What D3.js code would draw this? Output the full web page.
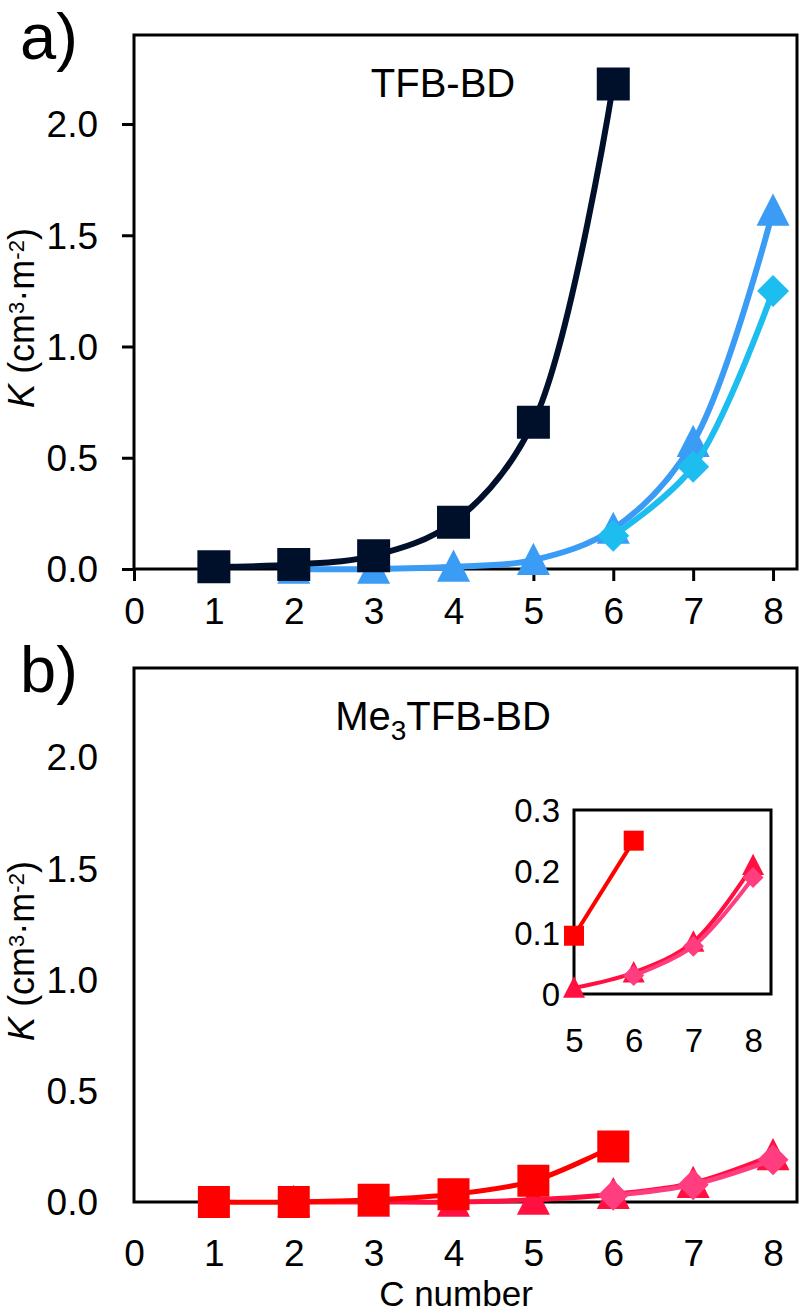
<!DOCTYPE html>
<html>
<head>
<meta charset="utf-8">
<script src="https://cdn.jsdelivr.net/npm/d3@7"></script>
<style>
  body { margin: 0; background: #fff; }
  svg text { font-family: "Liberation Sans", Arial, sans-serif; fill: #000; }
</style>
</head>
<body>
<svg id="chart" width="800" height="1314"></svg>
<script>
// values
var cNumbers = [1, 2, 3, 4, 5, 6, 7, 8]
var xTicks = [0, 1, 2, 3, 4, 5, 6, 7, 8]
var yTicks = [0, 0.5, 1.0, 1.5, 2.0]
var insetXTicks = [5, 6, 7, 8]
var insetYTicks = [0, 0.1, 0.2, 0.3]

// TFB-BD
var tfbSquareX = [1, 2, 3, 4, 5, 6]
var tfbSquare = [0.01, 0.02, 0.06, 0.21, 0.66, 2.18]
var tfbTriangleX = [2, 3, 4, 5, 6, 7, 8]
var tfbTriangle = [0.0, 0.0, 0.01, 0.04, 0.18, 0.57, 1.61]
var tfbDiamondX = [6, 7, 8]
var tfbDiamond = [0.15, 0.46, 1.25]

// Me3TFB-BD
var meSquareX = [1, 2, 3, 4, 5, 6]
var meSquare = [0.0, 0.0, 0.01, 0.035, 0.095, 0.25]
var meTriangleX = [2, 3, 4, 5, 6, 7, 8]
var meTriangle = [0.0, 0.0, 0.0, 0.01, 0.035, 0.085, 0.21]
var meDiamondX = [6, 7, 8]
var meDiamond = [0.03, 0.078, 0.19]

var svg = d3.select('#chart')
var FONT = 37

function pts(xs, ys) { return xs.map(function(x, i) { return [x, ys[i]] }) }

/**
 * Marker path centred on 0,0.
 */
function marker(shape, s) {
  var h = s / 2
  if(shape == 'square') return 'M' + -h + ',' + -h + 'h' + s + 'v' + s + 'h' + -s + 'Z'
  if(shape == 'triangle') return 'M0,' + (-h * 1.05) + 'L' + h + ',' + (h * 0.9) + 'L' + -h + ',' + (h * 0.9) + 'Z'
  return 'M0,' + -h + 'L' + h + ',0L0,' + h + 'L' + -h + ',0Z'
}

function drawSeries(g, x, y, data, color, shape, size, lw) {
  var line = d3.line()
      .x(function(d) { return x(d[0]) })
      .y(function(d) { return y(d[1]) })
      .curve(d3.curveCatmullRom.alpha(0.5))
  g.append('path')
      .attr('d', line(data))
      .attr('fill', 'none')
      .attr('stroke', color)
      .attr('stroke-width', lw)
  g.selectAll(null).data(data).enter()
    .append('path')
      .attr('d', marker(shape, size))
      .attr('transform', function(d) { return 'translate(' + x(d[0]) + ',' + y(d[1]) + ')' })
      .attr('fill', color)
}

// bottom: true for x axes, sets the baseline shift in px
function styleAxis(sel, size, bottom) {
  sel.select('.domain').remove()
  sel.selectAll('.tick line').attr('stroke', '#000').attr('stroke-width', 3)
  sel.selectAll('.tick text').attr('font-size', size).attr('fill', '#000')
      .attr('font-family', '"Liberation Sans", Arial, sans-serif')
      .attr('dy', bottom ? 0.72 * size : 0.35 * size)
}

function yLabel(cy) {
  var t = svg.append('text')
      .attr('transform', 'translate(34,' + cy + ') rotate(-90)')
      .attr('text-anchor', 'middle')
      .attr('font-size', 36)
  t.append('tspan').attr('font-style', 'italic').text('K')
  t.append('tspan').text(' (cm')
  t.append('tspan').attr('font-size', 22).attr('dy', -10).text('3')
  t.append('tspan').attr('dy', 10).text('·m')
  t.append('tspan').attr('font-size', 22).attr('dy', -10).text('-2')
  t.append('tspan').attr('dy', 10).text(')')
}

/**
 * One main panel. ticks: draw tick marks or not.
 */
function panel(opts) {
  var x = d3.scaleLinear().domain([0, 8.3]).range([134, 797])
  var y = d3.scaleLinear().domain([0, 2.4]).range([opts.bottom, opts.top])
  var g = svg.append('g')
  var ts = opts.ticks ? 12 : 0
  g.append('g')
      .attr('transform', 'translate(0,' + y(0) + ')')
      .call(d3.axisBottom(x).tickValues(xTicks).tickSize(ts).tickPadding(opts.xPad).tickFormat(d3.format('d')))
      .call(styleAxis, FONT, true)
  g.append('g')
      .attr('transform', 'translate(' + x(0) + ',0)')
      .call(d3.axisLeft(y).tickValues(yTicks).tickSize(ts).tickPadding(36 - ts).tickFormat(d3.format('.1f')))
      .call(styleAxis, FONT, false)
  g.append('rect')
      .attr('x', x(0)).attr('y', y(2.4))
      .attr('width', x(8.3) - x(0)).attr('height', y(0) - y(2.4))
      .attr('fill', 'none').attr('stroke', '#000').attr('stroke-width', 3)
  opts.series.forEach(function(s) {
    drawSeries(g, x, y, s.data, s.color, s.shape, s.size, s.lw)
  })
  svg.append('text').attr('x', 20).attr('y', opts.top + 24)
      .attr('font-size', 65).text(opts.letter)
  var title = svg.append('text').attr('x', 443).attr('y', opts.top + 62)
      .attr('text-anchor', 'middle').attr('font-size', 40)
  opts.title.forEach(function(p) {
    title.append('tspan').attr('font-size', p.sub ? 28 : 40).attr('dy', p.sub ? 10 : (p.after ? -10 : 0)).text(p.t)
  })
  yLabel((opts.top + opts.bottom) / 2 + 16)
  return { x: x, y: y }
}

panel({
  top: 35, bottom: 569, ticks: true, xPad: 16, letter: 'a)',
  title: [{ t: 'TFB-BD' }],
  series: [
    { data: pts(tfbTriangleX, tfbTriangle), color: '#3a9cf5', shape: 'triangle', size: 33, lw: 6 },
    { data: pts(tfbDiamondX, tfbDiamond), color: '#1ebdf0', shape: 'diamond', size: 32, lw: 6 },
    { data: pts(tfbSquareX, tfbSquare), color: '#00102a', shape: 'square', size: 33, lw: 6 }
  ]
})

panel({
  top: 668, bottom: 1202, ticks: false, xPad: 37, letter: 'b)',
  title: [{ t: 'Me' }, { t: '3', sub: true }, { t: 'TFB-BD', after: true }],
  series: [
    { data: pts(meTriangleX, meTriangle), color: '#ff1040', shape: 'triangle', size: 33, lw: 5 },
    { data: pts(meDiamondX, meDiamond), color: '#ff3d7f', shape: 'diamond', size: 31, lw: 5 },
    { data: pts(meSquareX, meSquare), color: '#ff0000', shape: 'square', size: 32, lw: 5 }
  ]
})

// inset of panel b, C 5-8
var ix = d3.scaleLinear().domain([5, 8.3]).range([574, 771])
var iy = d3.scaleLinear().domain([0, 0.3]).range([994, 810])
var ig = svg.append('g')
ig.append('rect').attr('x', 574).attr('y', 810).attr('width', 197).attr('height', 184)
    .attr('fill', '#fff').attr('stroke', '#000').attr('stroke-width', 3)
function fromFive(xs, ys) { return pts(xs, ys).filter(function(d) { return d[0] >= 5 }) }
drawSeries(ig, ix, iy, fromFive(meTriangleX, meTriangle), '#ff1040', 'triangle', 22, 4)
drawSeries(ig, ix, iy, fromFive(meDiamondX, meDiamond), '#ff3d7f', 'diamond', 21, 4)
drawSeries(ig, ix, iy, fromFive(meSquareX, meSquare), '#ff0000', 'square', 20, 4)
ig.append('g').attr('transform', 'translate(0,994)')
    .call(d3.axisBottom(ix).tickValues(insetXTicks).tickSize(0).tickPadding(34).tickFormat(d3.format('d')))
    .call(styleAxis, 33, true)
ig.append('g').attr('transform', 'translate(574,0)')
    .call(d3.axisLeft(iy).tickValues(insetYTicks).tickSize(0).tickPadding(14).tickFormat(function(d) { return d == 0 ? '0' : d3.format('.1f')(d) }))
    .call(styleAxis, 33, false)

svg.append('text').attr('x', 456).attr('y', 1306).attr('text-anchor', 'middle')
    .attr('font-size', 35).text('C number')
</script>
</body>
</html>
